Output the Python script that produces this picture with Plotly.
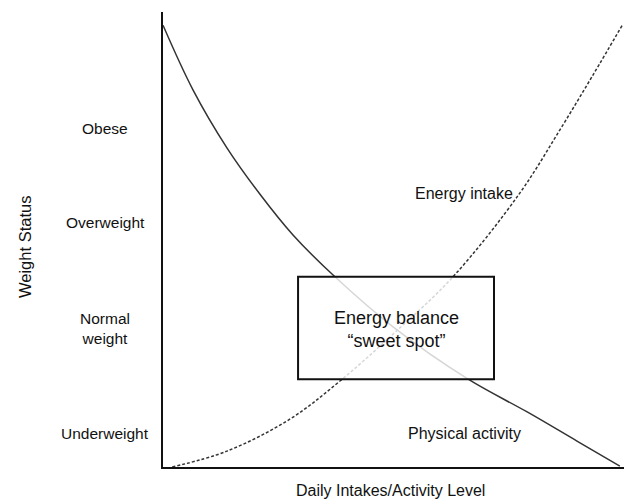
import plotly.graph_objects as go

# Data (arbitrary 0-100 units)
activity_x = [0, 6.5, 13.9, 21.0, 28.2, 37.3, 49.9, 66.2, 79.0, 89.8, 99.1]
activity_y = [97.1, 82.9, 70.1, 60.0, 51.0, 41.8, 30.8, 19.3, 12.1, 5.7, 0.2]

intake_x = [2.0, 13.9, 27.5, 38.4, 49.9, 62.9, 77.4, 86.1, 93.3, 99.8]
intake_y = [0.0, 3.5, 10.5, 18.9, 29.2, 41.8, 60.2, 74.1, 86.2, 97.4]

status_labels = ["Obese", "Overweight", "Normal<br>weight", "Underweight"]
status_levels = [74.5, 53.8, 30.5, 7.3]

box_x = [29.3, 71.8]
box_y = [19.3, 41.8]

FONT = "Liberation Sans, Arial, sans-serif"
TXT = "#111111"

fig = go.Figure()
fig.add_trace(go.Scatter(x=activity_x, y=activity_y, mode="lines",
                         line=dict(color="#333333", width=1.5, shape="spline", smoothing=1.0),
                         showlegend=False, hoverinfo="skip"))
fig.add_trace(go.Scatter(x=intake_x, y=intake_y, mode="lines",
                         line=dict(color="#333333", width=1.5, shape="spline", smoothing=1.0,
                                   dash="3px,2px"),
                         showlegend=False, hoverinfo="skip"))

fig.add_shape(type="rect", xref="x", yref="y", x0=box_x[0], x1=box_x[1], y0=box_y[0], y1=box_y[1],
              fillcolor="rgba(255,255,255,0.8)", line=dict(color="#111111", width=2), layer="above")

annos = []
for lab, lev in zip(status_labels, status_levels):
    annos.append(dict(text=lab, xref="paper", yref="y", x=(105 - 163) / 461, y=lev,
                      xanchor="center", yanchor="middle", showarrow=False,
                      font=dict(size=15.5, color=TXT, family=FONT)))

def pp(px, py):
    return (px - 163) / 461, (467 - py) / 455

for text, px, py, size in [
    ("Energy intake", 464, 193, 16),
    ("Physical activity", 464, 433, 16),
    ("Energy balance<br>“sweet spot”", 396, 329, 18),
    ("Daily Intakes/Activity Level", 390, 490, 16),
]:
    x, y = pp(px, py)
    annos.append(dict(text=text, xref="paper", yref="paper", x=x, y=y,
                      xanchor="center", yanchor="middle", showarrow=False,
                      font=dict(size=size, color=TXT, family=FONT)))

x, y = pp(25, 247)
annos.append(dict(text="Weight Status", xref="paper", yref="paper", x=x, y=y, textangle=-90,
                  xanchor="center", yanchor="middle", showarrow=False,
                  font=dict(size=16.5, color=TXT, family=FONT)))

fig.update_layout(
    width=624, height=500,
    margin=dict(l=163, r=0, t=12, b=33),
    paper_bgcolor="white", plot_bgcolor="white",
    annotations=annos,
    xaxis=dict(range=[0, 100], showgrid=False, zeroline=False, showticklabels=False,
               ticks="", showline=True, linecolor="#111111", linewidth=2),
    yaxis=dict(range=[0, 100], showgrid=False, zeroline=False, showticklabels=False,
               ticks="", showline=True, linecolor="#111111", linewidth=2),
)

fig.write_html("out.html", config={"displayModeBar": False},
               post_script="document.body.style.margin='0';document.body.style.overflow='hidden';")
